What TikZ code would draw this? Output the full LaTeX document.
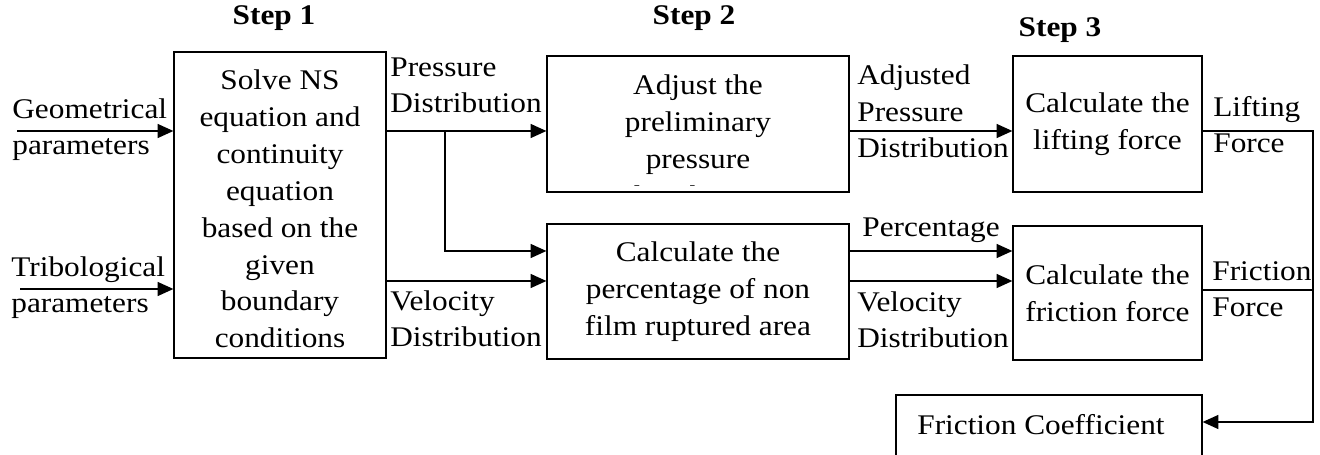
\documentclass[tikz,border=0pt]{standalone}
\usepackage{fontspec}
\setmainfont{Liberation Serif}[FakeStretch=1.1]
\usetikzlibrary{arrows.meta}
\tikzset{
  proc/.style={draw, line width=0.75pt, inner sep=0pt, align=center},
  flow/.style={line width=0.75pt, -{Triangle[length=9pt,width=8pt]}},
  wire/.style={line width=0.75pt},
  lbl/.style={anchor=base west, inner sep=0pt, align=left},
  steplbl/.style={font=\fontsize{16.2}{21}\selectfont\bfseries, inner sep=0pt},
}
\begin{document}
\begin{tikzpicture}[x=0.02cm, y=-0.02cm, font=\fontsize{16.2}{21}\selectfont]
  \clip (0,0) rectangle (1320,455);

  % step headings
  \node[steplbl] (step1) at (274,18) {Step 1};
  \node[steplbl] (step2) at (694,18) {Step 2};
  \node[steplbl] (step3) at (1060,30) {Step 3};

  % process boxes
  \node[proc, minimum width=4.24cm, minimum height=6.12cm] (solve) at (280,205) {};
  \node[align=center, inner sep=0pt] (solvetxt) at (280,209)
    {Solve NS\\equation and\\continuity\\equation\\based on the\\given\\boundary\\conditions};
  \node[proc, minimum width=6.04cm, minimum height=2.72cm] (adjust) at (698,124) {};
  \begin{scope}
    % text runs past the box and gets cut off
    \clip (adjust.north west) rectangle ([yshift=0.14cm]adjust.south east);
    \node[align=center, inner sep=0pt] (adjusttxt) at (698,140)
      {Adjust the\\preliminary\\pressure\\distribution};
  \end{scope}
  \node[proc, minimum width=6.04cm, minimum height=2.70cm] (pct) at (698,291.5)
    {Calculate the\\percentage of non\\film ruptured area};
  \node[proc, minimum width=3.78cm, minimum height=2.72cm] (lift) at (1107.5,124)
    {Calculate the\\lifting force};
  \node[proc, minimum width=3.78cm, minimum height=2.68cm] (fric) at (1107.5,293)
    {Calculate the\\friction force};
  \node[proc, minimum width=6.12cm, minimum height=1.7cm] (coef) at (1049,437.5) {};
  \node[lbl] (coeftxt) at (917,435) {Friction Coefficient};

  % rows of the connectors
  \coordinate (prow) at (0,131);
  \coordinate (brow) at (0,251);
  \coordinate (vrow) at (0,281);
  \coordinate (frow) at (0,290);
  \coordinate (crow) at (0,422);
  \coordinate (geoin) at (17,131);
  \coordinate (triin) at (20,289);
  \coordinate (split) at (445,131);
  \coordinate (rail) at (1313,0);

  % inputs (labels sit on the baseline of their last line)
  \draw[flow] (geoin) -- (geoin -| solve.west);
  \draw[flow] (triin) -- (triin -| solve.west);
  \node[lbl] (geolbl) at (12,155) {Geometrical\\parameters};
  \node[lbl] (trilbl) at (11,313) {Tribological\\parameters};

  % step 1 -> step 2
  \draw[flow] (solve.east |- prow) -- (adjust.west |- prow);
  \draw[flow] (split) |- (pct.west |- brow);
  \draw[flow] (solve.east |- vrow) -- (pct.west |- vrow);
  \node[lbl] (presslbl) at (390,113) {Pressure\\Distribution};
  \node[lbl] (vellbl) at (390,347) {Velocity\\Distribution};

  % step 2 -> step 3
  \draw[flow] (adjust.east |- prow) -- (lift.west |- prow);
  \draw[flow] (pct.east |- brow) -- (fric.west |- brow);
  \draw[flow] (pct.east |- vrow) -- (fric.west |- vrow);
  \node[lbl] (adjlbl) at (857,158) {Adjusted\\Pressure\\Distribution};
  \node[lbl] (pctlbl) at (862,237) {Percentage};
  \node[lbl] (vel2lbl) at (857,348) {Velocity\\Distribution};

  % outputs
  \draw[flow] (lift.east |- prow) -| (rail |- crow) -- (coef.east |- crow);
  \draw[wire] (fric.east |- frow) -- (rail |- frow);
  \node[lbl] (liftlbl) at (1213,153) {Lifting\\Force};
  \node[lbl] (friclbl) at (1212,317) {Friction\\Force};
\end{tikzpicture}
\end{document}
